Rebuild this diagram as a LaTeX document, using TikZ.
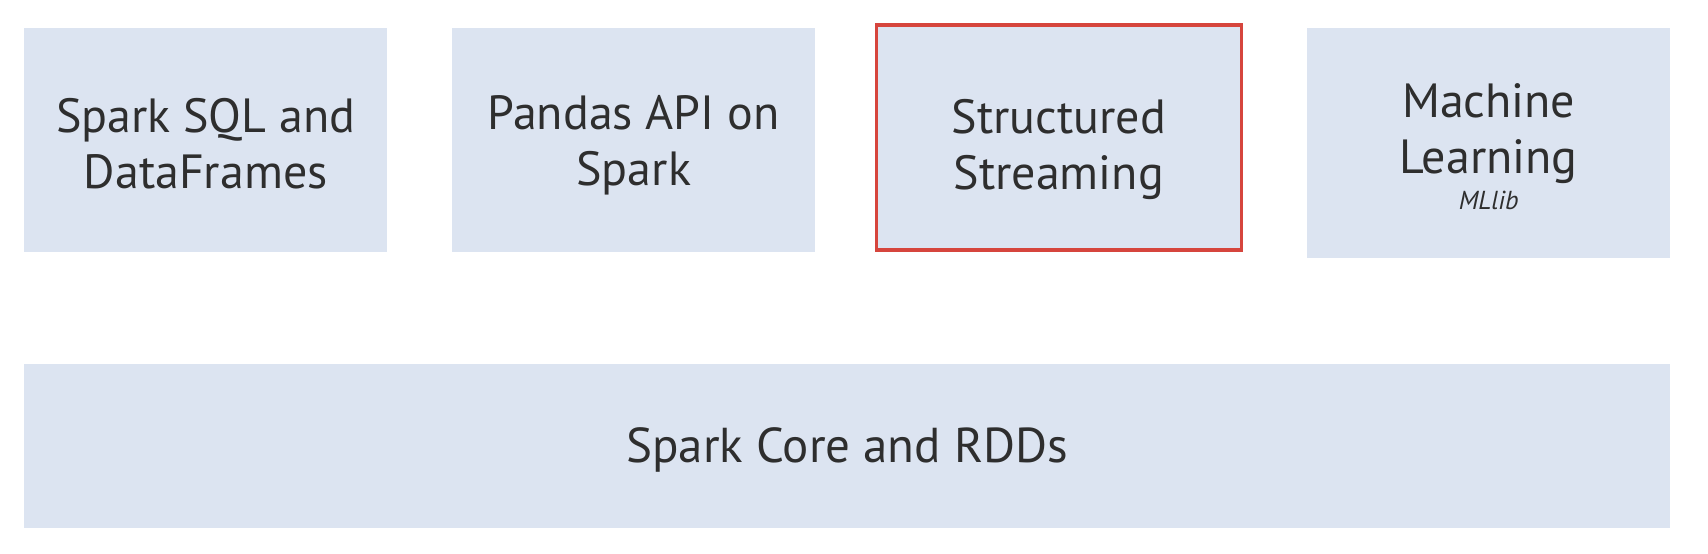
\documentclass[tikz,border=0pt]{standalone}
\usepackage{fontspec}
\setmainfont{PT Sans}
\definecolor{boxfill}{HTML}{DCE4F1}
\definecolor{txt}{HTML}{2E2E2E}
\definecolor{hl}{HTML}{D6453D}
\begin{document}
\begin{tikzpicture}[x=1pt,y=-1pt,
  layer/.style={fill=boxfill,draw=none,anchor=north west,inner sep=0pt},
  hlbox/.style={draw=hl,line width=3.5pt},
  lbl/.style={inner sep=0pt,align=center,text=txt,font=\fontsize{48}{56}\selectfont}]
\useasboundingbox[fill=white] (0,0) rectangle (1708,554);
\node[layer,minimum width=363pt,minimum height=224pt] (sql) at (24,28) {};
\node[layer,minimum width=363pt,minimum height=224pt] (pandas) at (452,28) {};
\node[layer,hlbox,minimum width=365pt,minimum height=225pt] (stream) at (874.5,23) {};
\node[layer,minimum width=363pt,minimum height=230pt] (ml) at (1307,28) {};
\node[layer,minimum width=1646pt,minimum height=164pt] (core) at (24,364) {};
\node[lbl] (sqlt) at ([yshift=-3pt]sql.center) {Spark SQL and\\DataFrames};
\node[lbl] (pandast) at ([yshift=-5pt]pandas.center) {Pandas API on\\Spark};
\node[lbl] (streamt) at ([yshift=-12pt]stream.center) {Structured\\Streaming};
\node[lbl] (mlt) at ([yshift=-3pt]ml.center) {Machine\\Learning\\[-20pt]{\fontsize{26}{28}\selectfont\itshape MLlib}};
\node[lbl,font=\fontsize{49}{58}\selectfont] (coret) at ([yshift=-4pt]core.center) {Spark Core and RDDs};
\end{tikzpicture}
\end{document}
